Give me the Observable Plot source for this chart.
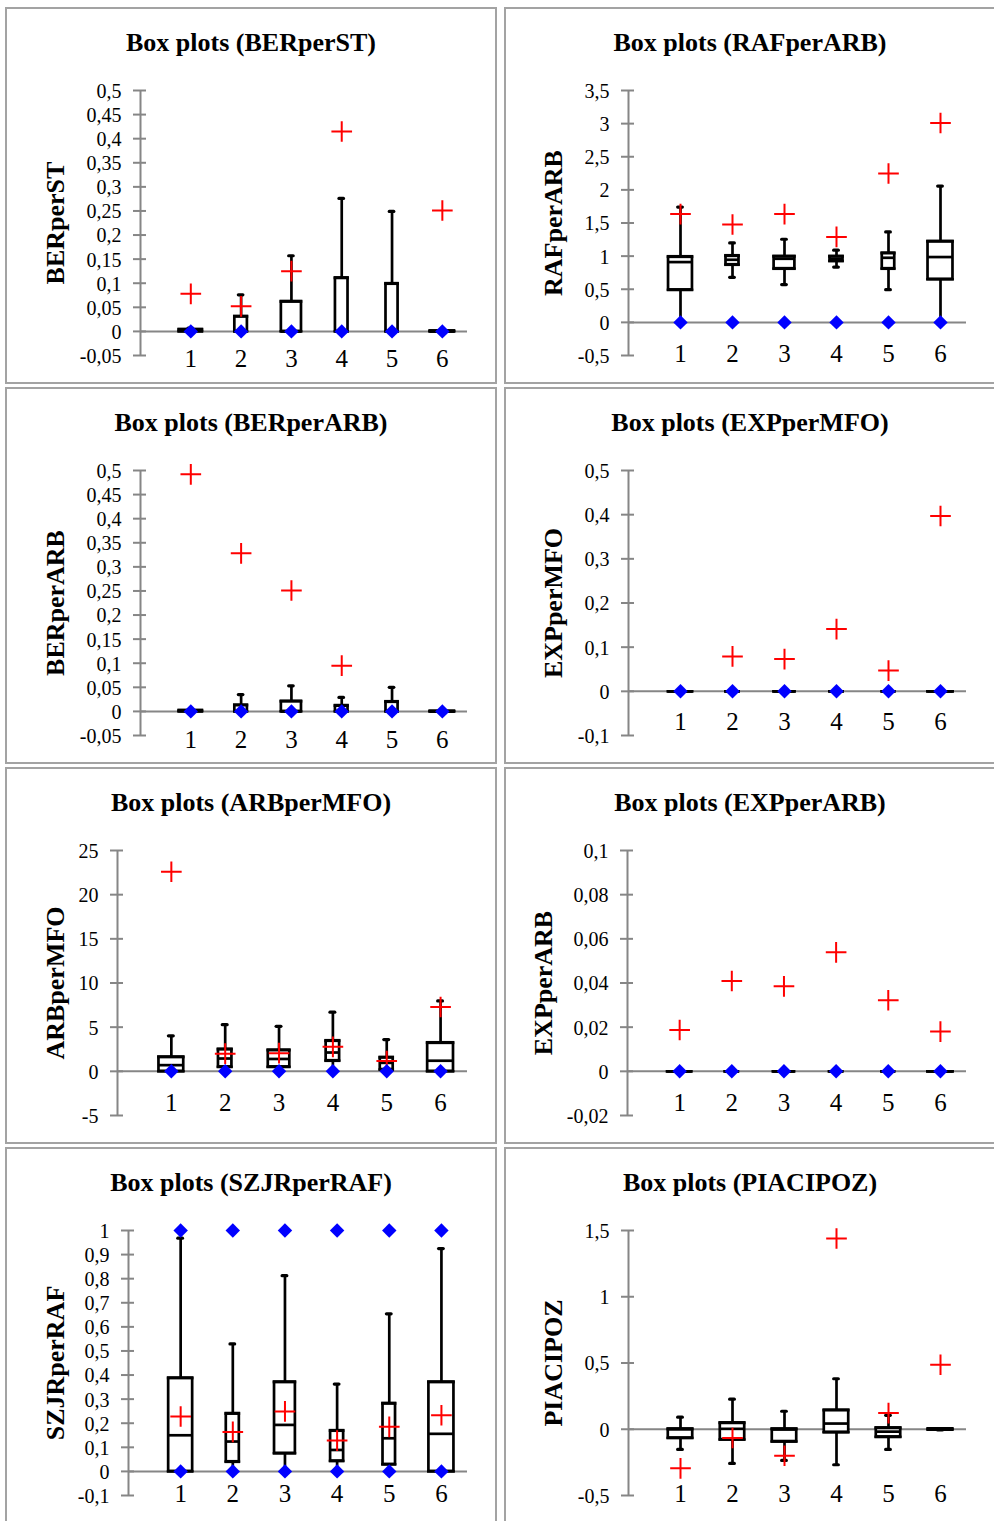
<!DOCTYPE html>
<html>
<head>
<meta charset="utf-8">
<script src="https://cdn.jsdelivr.net/npm/d3@7"></script>
<script src="https://cdn.jsdelivr.net/npm/@observablehq/plot@0.6"></script>
<style>
html, body { margin: 0; padding: 0; background: #fff; overflow: hidden; }
#page { position: relative; width: 994px; height: 1521px; }
.panel { position: absolute; width: 492px; height: 377px; }
.panel svg { position: absolute; left: 0; top: 0; }
.frame { position: absolute; left: 0; top: 0; right: 0; bottom: 0; border: 2px solid #a3a3a3; box-sizing: border-box; pointer-events: none; }
.title { position: absolute; left: 0; right: 0; top: 23px; text-align: center; font: bold 26px/26px "Liberation Serif", "Times New Roman", serif; color: #000; white-space: nowrap; }
</style>
</head>
<body>
<div id="page"></div>
<script>
// ---------------- DATA ----------------
// group labels on the x axis
const groups = ["1", "2", "3", "4", "5", "6"];
// relative group weight (box width share of the category step)
const groupWeight = [0.46, 0.25, 0.40, 0.25, 0.24, 0.48];
const groupWeightEqual = [0.47, 0.47, 0.47, 0.47, 0.47, 0.47];

// columns: lower whisker, Q1, median, Q3, upper whisker, mean, min, max (null = outside the axis range)
const BERperST = [
  [0, 0, 0.002, 0.004, 0.007, 0.078, 0, null],
  [0, 0, 0, 0.031, 0.076, 0.052, 0, null],
  [0, 0, 0, 0.062, 0.157, 0.125, 0, null],
  [0, 0, 0, 0.111, 0.276, 0.415, 0, null],
  [0, 0, 0, 0.099, 0.249, null, 0, null],
  [0, 0, 0, 0.001, 0.001, 0.251, 0, null]
];
const RAFperARB = [
  [0, 0.49, 0.91, 0.99, 1.74, 1.635, 0, null],
  [0.68, 0.87, 0.945, 1.005, 1.2, 1.478, 0, null],
  [0.57, 0.81, 0.96, 0.996, 1.255, 1.635, 0, null],
  [0.835, 0.925, 0.96, 0.996, 1.09, 1.29, 0, null],
  [0.493, 0.81, 0.975, 1.045, 1.365, 2.247, 0, null],
  [0, 0.65, 0.986, 1.222, 2.057, 3.01, 0, null]
];
const BERperARB = [
  [0, 0, 0.001, 0.002, 0.002, 0.492, 0, null],
  [0, 0, 0, 0.013, 0.035, 0.328, 0, null],
  [0, 0, 0, 0.021, 0.053, 0.251, 0, null],
  [0, 0, 0, 0.012, 0.029, 0.095, 0, null],
  [0, 0, 0, 0.02, 0.05, null, 0, null],
  [0, 0, 0, 0.0005, 0.0005, null, 0, null]
];
const EXPperMFO = [
  [0, 0, 0, 0, 0, null, 0, null],
  [0, 0, 0, 0, 0, 0.079, 0, null],
  [0, 0, 0, 0, 0, 0.073, 0, null],
  [0, 0, 0, 0, 0, 0.141, 0, null],
  [0, 0, 0, 0, 0, 0.047, 0, null],
  [0, 0, 0, 0, 0, 0.397, 0, null]
];
const ARBperMFO = [
  [0, 0, 0.7, 1.62, 4.02, 22.6, 0, null],
  [0, 0.5, 1.45, 2.5, 5.28, 2.0, 0, null],
  [0, 0.5, 1.4, 2.4, 5.1, 2.06, 0, null],
  [0, 1.2, 2.13, 3.46, 6.7, 2.77, 0, null],
  [0, 0.2, 0.96, 1.57, 3.6, 1.17, 0, null],
  [0, 0, 1.2, 3.23, 7.97, 7.28, 0, null]
];
const EXPperARB = [
  [0, 0, 0, 0, 0, 0.0187, 0, null],
  [0, 0, 0, 0, 0, 0.0409, 0, null],
  [0, 0, 0, 0, 0, 0.0385, 0, null],
  [0, 0, 0, 0, 0, 0.0539, 0, null],
  [0, 0, 0, 0, 0, 0.0322, 0, null],
  [0, 0, 0, 0, 0, 0.018, 0, null]
];
const SZJRperRAF = [
  [0, 0, 0.15, 0.3875, 0.968, 0.228, 0, 1],
  [0, 0.04, 0.124, 0.24, 0.529, 0.164, 0, 1],
  [0, 0.075, 0.193, 0.371, 0.8125, 0.249, 0, 1],
  [0, 0.043, 0.089, 0.169, 0.3625, 0.128, 0, 1],
  [0, 0.029, 0.1375, 0.282, 0.654, 0.185, 0, 1],
  [0, 0, 0.156, 0.371, 0.925, 0.233, 0, 1]
];
const PIACIPOZ = [
  [-0.152, -0.066, 0, 0.002, 0.091, -0.295, null, null],
  [-0.258, -0.078, 0.003, 0.048, 0.227, -0.066, null, null],
  [-0.235, -0.093, -0.002, 0.002, 0.136, -0.2, null, null],
  [-0.268, -0.023, 0.043, 0.144, 0.381, 1.44, null, null],
  [-0.152, -0.058, -0.018, 0.01, 0.105, 0.122, null, null],
  [-0.005, -0.003, 0, 0.003, 0.005, 0.487, null, null]
];

// y-axis tick values
const ticksBERperST = [-0.05, 0, 0.05, 0.1, 0.15, 0.2, 0.25, 0.3, 0.35, 0.4, 0.45, 0.5];
const ticksRAFperARB = [-0.5, 0, 0.5, 1, 1.5, 2, 2.5, 3, 3.5];
const ticksBERperARB = [-0.05, 0, 0.05, 0.1, 0.15, 0.2, 0.25, 0.3, 0.35, 0.4, 0.45, 0.5];
const ticksEXPperMFO = [-0.1, 0, 0.1, 0.2, 0.3, 0.4, 0.5];
const ticksARBperMFO = [-5, 0, 5, 10, 15, 20, 25];
const ticksEXPperARB = [-0.02, 0, 0.02, 0.04, 0.06, 0.08, 0.1];
const ticksSZJRperRAF = [-0.1, 0, 0.1, 0.2, 0.3, 0.4, 0.5, 0.6, 0.7, 0.8, 0.9, 1];
const ticksPIACIPOZ = [-0.5, 0, 0.5, 1, 1.5];

// ---------------- LAYOUT ----------------
const panels = [
  {name: "BERperST", table: BERperST, ticks: ticksBERperST, weight: groupWeight, col: 0, row: 0, ml: 135, labelDx: -85, xPad: -6},
  {name: "RAFperARB", table: RAFperARB, ticks: ticksRAFperARB, weight: groupWeight, col: 1, row: 0, ml: 124, labelDx: -75, xPad: -11},
  {name: "BERperARB", table: BERperARB, ticks: ticksBERperARB, weight: groupWeight, col: 0, row: 1, ml: 135, labelDx: -85, xPad: -5},
  {name: "EXPperMFO", table: EXPperMFO, ticks: ticksEXPperMFO, weight: groupWeight, col: 1, row: 1, ml: 124, labelDx: -75, xPad: -23},
  {name: "ARBperMFO", table: ARBperMFO, ticks: ticksARBperMFO, weight: groupWeight, col: 0, row: 2, ml: 112, labelDx: -62, xPad: -22},
  {name: "EXPperARB", table: EXPperARB, ticks: ticksEXPperARB, weight: groupWeight, col: 1, row: 2, ml: 123, labelDx: -84, xPad: -22},
  {name: "SZJRperRAF", table: SZJRperRAF, ticks: ticksSZJRperRAF, weight: groupWeight, col: 0, row: 3, ml: 123, labelDx: -73, xPad: -11},
  {name: "PIACIPOZ", table: PIACIPOZ, ticks: ticksPIACIPOZ, weight: groupWeightEqual, col: 1, row: 3, ml: 124, labelDx: -75, xPad: -11}
];
const colLeft = [5, 504];
const rowTop = [7, 387, 767, 1147];
const AX = "#868686";
const SW = 2.7;
const FONT = '"Liberation Serif", "Times New Roman", serif';
const fmt = d => String(d).replace(".", ",");

const page = document.getElementById("page");

for (const p of panels) {
  const rows = p.table.map((r, i) => ({
    x: i + 1, lo: r[0], q1: r[1], med: r[2], q3: r[3], hi: r[4], mean: r[5], min: r[6], max: r[7], w: p.weight[i]
  }));
  const extremes = [];
  for (const d of rows) {
    if (d.min != null) extremes.push({x: d.x, v: d.min});
    if (d.max != null) extremes.push({x: d.x, v: d.max});
  }
  const yDomain = [p.ticks[0], p.ticks[p.ticks.length - 1]];
  const x1 = d => d.x - d.w / 2;
  const x2 = d => d.x + d.w / 2;

  const svg = Plot.plot({
    width: 492,
    height: 377,
    marginTop: 83,
    marginBottom: 29,
    marginLeft: p.ml,
    marginRight: 30,
    x: {type: "linear", domain: [0, 6.5]},
    y: {type: "linear", domain: yDomain},
    style: {fontFamily: FONT, background: "none", overflow: "visible", color: "#000"},
    marks: [
      Plot.ruleY([0], {stroke: AX, strokeWidth: 2}),
      Plot.ruleX([0], {stroke: AX, strokeWidth: 2}),
      Plot.axisY(p.ticks, {tickSize: 13, dx: 6, tickFormat: () => "", stroke: AX, strokeWidth: 2, label: null}),
      Plot.axisY(p.ticks, {tickSize: 0, tickPadding: 19, tickFormat: fmt, fontSize: 20, dy: 1, label: null}),
      Plot.axisX([1, 2, 3, 4, 5, 6], {tickSize: 0, tickPadding: p.xPad, tickFormat: d => groups[d - 1], fontSize: 25, label: null}),
      Plot.text([p.name], {frameAnchor: "left", textAnchor: "middle", lineAnchor: "middle", rotate: -90, dx: p.labelDx, fontSize: 26, fontWeight: "bold", fill: "#000"}),
      // whiskers
      Plot.ruleX(rows.filter(d => d.lo < d.q1), {x: "x", y1: "lo", y2: "q1", stroke: "#000", strokeWidth: SW}),
      Plot.ruleX(rows.filter(d => d.hi > d.q3), {x: "x", y1: "q3", y2: "hi", stroke: "#000", strokeWidth: SW}),
      Plot.ruleY(rows.filter(d => d.lo < d.q1), {y: "lo", x1: d => d.x - 0.045, x2: d => d.x + 0.045, stroke: "#000", strokeWidth: 3.2, strokeLinecap: "round"}),
      Plot.ruleY(rows.filter(d => d.hi > d.q3), {y: "hi", x1: d => d.x - 0.045, x2: d => d.x + 0.045, stroke: "#000", strokeWidth: 3.2, strokeLinecap: "round"}),
      // boxes
      Plot.rect(rows, {x1, x2, y1: "q1", y2: "q3", fill: "#fff", stroke: "#000", strokeWidth: SW}),
      Plot.ruleY(rows, {y: "q1", x1, x2, stroke: "#000", strokeWidth: SW, strokeLinecap: "square"}),
      Plot.ruleY(rows, {y: "q3", x1, x2, stroke: "#000", strokeWidth: SW, strokeLinecap: "square"}),
      Plot.ruleY(rows, {y: "med", x1, x2, stroke: "#000", strokeWidth: SW}),
      // means
      Plot.dot(rows.filter(d => d.mean != null), {x: "x", y: "mean", symbol: "plus", r: 6.7, stroke: "#ff0000", strokeWidth: 2}),
      // minimum / maximum
      Plot.dot(extremes, {x: "x", y: "v", symbol: "diamond2", r: 6.5, fill: "#0000ff", stroke: "none"})
    ]
  });

  const panel = document.createElement("div");
  panel.className = "panel";
  panel.style.left = colLeft[p.col] + "px";
  panel.style.top = rowTop[p.row] + "px";
  panel.appendChild(svg);
  const title = document.createElement("div");
  title.className = "title";
  title.textContent = "Box plots (" + p.name + ")";
  panel.appendChild(title);
  const frame = document.createElement("div");
  frame.className = "frame";
  panel.appendChild(frame);
  page.appendChild(panel);
}
</script>
</body>
</html>
